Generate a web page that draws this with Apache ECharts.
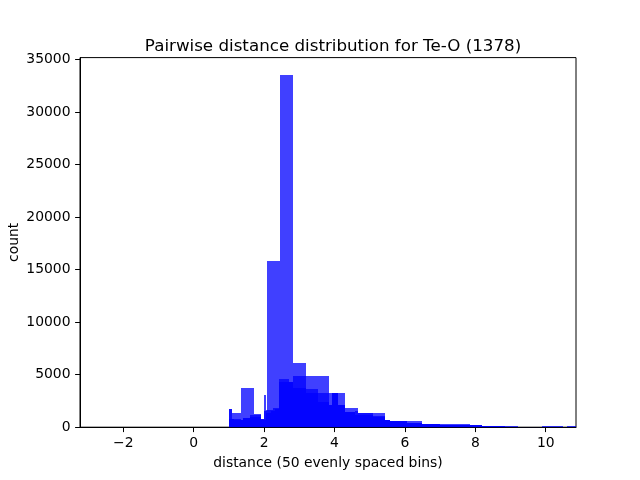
<!DOCTYPE html>
<html>
<head>
<meta charset="utf-8">
<script src="https://cdn.jsdelivr.net/npm/echarts@6/dist/echarts.min.js"></script>
<style>
    html, body {margin: 0; padding: 0; background: #fff;}
    #main {width: 640px; height: 480px;}
</style>
</head>
<body>
<div id="main"></div>
<script>
// outer envelope (single overlap, lightest)
var layer1Edges = [1.003, 1.088, 1.344, 1.713, 1.920, 1.997, 2.054, 2.082, 2.452, 2.821, 3.190, 3.835, 4.298, 4.676, 5.435, 5.577, 6.051, 6.477, 6.997, 7.849, 8.182, 9.213, 9.886, 10.491, 10.597, 10.861];
var layer1Counts = [1730, 1350, 3730, 1260, 800, 3100, 1500, 15820, 33520, 6110, 4880, 3260, 1830, 1350, 690, 560, 560, 300, 300, 210, 110, 0, 110, 0, 110];

// second envelope
var layer2Edges = [1.003, 1.088, 1.344, 1.39, 1.60, 1.92, 1.997, 2.054, 2.253, 2.432, 2.716, 2.821, 3.19, 3.54, 3.835, 3.929, 4.099, 4.298, 4.582, 4.676, 5.094, 5.435, 5.577, 6.051, 6.477, 6.997, 7.849, 8.182, 8.844];
var layer2Counts = [1730, 780, 700, 900, 1130, 800, 1500, 1600, 1830, 4620, 4300, 4880, 3670, 3260, 2110, 3260, 2110, 1400, 1510, 1350, 1100, 690, 560, 400, 300, 200, 210, 110];

// inner base (darkest)
var layer3Edges = [1.003, 1.15, 1.39, 1.60, 1.92, 2.054, 2.20, 2.30, 2.432, 2.821, 3.19, 3.54, 3.835, 3.929, 4.099, 4.298, 4.582, 4.676, 5.094, 5.435, 5.577, 6.051, 6.477, 6.997, 7.849, 8.182, 8.844];
var layer3Counts = [780, 650, 880, 950, 650, 1350, 1540, 1770, 4300, 3730, 3290, 2400, 2110, 3260, 2110, 1400, 1200, 1200, 950, 690, 560, 400, 300, 200, 210, 110];

var xTicks = [-2, 0, 2, 4, 6, 8, 10];
var yTicks = [0, 5000, 10000, 15000, 20000, 25000, 30000, 35000];

function toBins(edges, counts) {
    var bins = [];
    for (var i = 0; i < counts.length; i++) {
        bins.push([edges[i], edges[i + 1], counts[i]]);
    }
    return bins;
}

function renderBin(params, api) {
    var topLeft = api.coord([api.value(0), api.value(2)]);
    var bottomRight = api.coord([api.value(1), 0]);
    // snap to whole pixels so neighbouring bins have no seams
    var x0 = Math.round(topLeft[0]), x1 = Math.round(bottomRight[0]);
    var y0 = Math.round(topLeft[1]), y1 = bottomRight[1];
    return {
        type: 'rect',
        shape: {x: x0, y: y0, width: x1 - x0, height: y1 - y0},
        style: {fill: 'rgba(0,0,255,0.75)'}
    };
}

function histSeries(edges, counts) {
    return {
        type: 'custom',
        renderItem: renderBin,
        encode: {x: [0, 1], y: 2},
        data: toBins(edges, counts),
        clip: true
    };
}

var font = 'DejaVu Sans';
var myChart = echarts.init(document.getElementById('main'));
var option = {
    animation: false,
    backgroundColor: '#fff',
    title: {
        text: 'Pairwise distance distribution for Te-O (1378)',
        left: 328,
        top: 33,
        textAlign: 'center',
        textStyle: {fontFamily: font, fontSize: 16.7, fontWeight: 'normal', color: '#000'}
    },
    grid: {
        left: 80, right: 64, top: 57.6, bottom: 52.8,
        containLabel: false,
        outerBoundsMode: 'none',
        show: true, borderColor: '#000', borderWidth: 1, backgroundColor: 'transparent'
    },
    xAxis: {
        type: 'value',
        min: -3.23,
        max: 10.86,
        name: 'distance (50 evenly spaced bins)',
        nameLocation: 'middle',
        nameGap: 29,
        nameMoveOverlap: false,
        nameTextStyle: {fontFamily: font, fontSize: 13.9, color: '#000'},
        splitLine: {show: false},
        axisLine: {show: true, onZero: false, lineStyle: {color: '#000', width: 1}},
        axisTick: {show: true, length: 4.9, lineStyle: {color: '#000', width: 1}, customValues: xTicks},
        axisLabel: {
            margin: 9.5,
            fontFamily: font, fontSize: 13.9, color: '#000',
            customValues: xTicks,
            formatter: function (v) { return String(v).replace('-', '\u2212'); }
        }
    },
    yAxis: {
        type: 'value',
        min: 0,
        max: 35180,
        name: 'count',
        nameLocation: 'middle',
        nameGap: 59,
        nameRotate: 90,
        nameMoveOverlap: false,
        nameTextStyle: {fontFamily: font, fontSize: 13.9, color: '#000'},
        splitLine: {show: false},
        axisLine: {show: true, onZero: false, lineStyle: {color: '#000', width: 1}},
        axisTick: {show: true, length: 4.9, lineStyle: {color: '#000', width: 1}, customValues: yTicks},
        axisLabel: {
            margin: 9.5,
            fontFamily: font, fontSize: 13.9, color: '#000',
            customValues: yTicks,
            formatter: function (v) { return String(v); }
        }
    },
    series: [
        histSeries(layer1Edges, layer1Counts),
        histSeries(layer2Edges, layer2Counts),
        histSeries(layer3Edges, layer3Counts)
    ]
};
myChart.setOption(option);
</script>
</body>
</html>
